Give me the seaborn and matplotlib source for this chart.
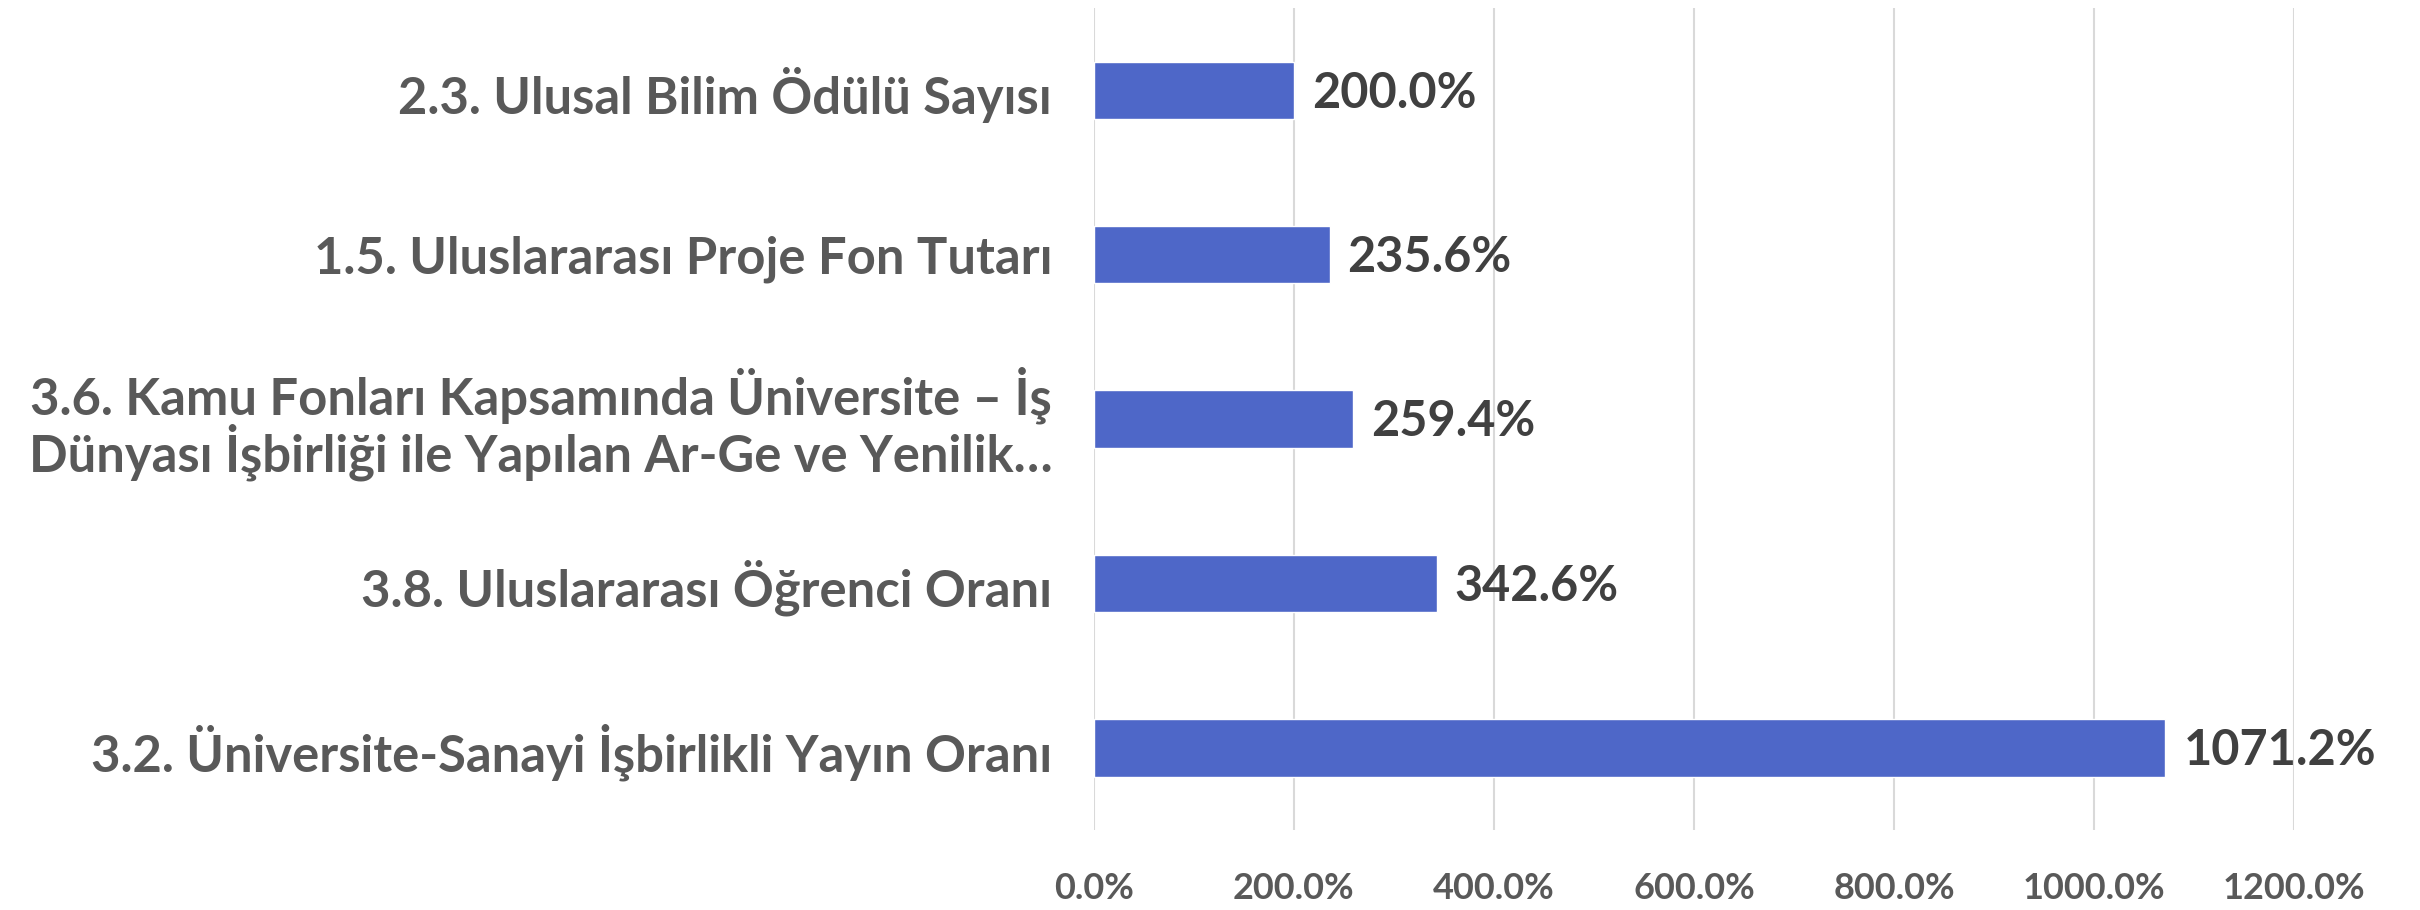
import matplotlib
matplotlib.use("Agg")
import matplotlib.pyplot as plt
import seaborn as sns
import pandas as pd

# göstergeler (yukarıdan aşağıya)
labels = [
    "2.3. Ulusal Bilim Ödülü Sayısı",
    "1.5. Uluslararası Proje Fon Tutarı",
    "3.6. Kamu Fonları Kapsamında Üniversite – İş\nDünyası İşbirliği ile Yapılan Ar-Ge ve Yenilik…",
    "3.8. Uluslararası Öğrenci Oranı",
    "3.2. Üniversite-Sanayi İşbirlikli Yayın Oranı",
]
values = [200.0, 235.6, 259.4, 342.6, 1071.2]
xticks = [0, 200, 400, 600, 800, 1000, 1200]

df = pd.DataFrame({"gosterge": labels, "oran": values})

sns.set_style("white")
plt.rcParams["font.family"] = ["Lato", "DejaVu Sans"]

fig = plt.figure(figsize=(24.2, 9.1), dpi=100)
ax = fig.add_axes([0.452, 0.088, 0.496, 0.903])

sns.barplot(data=df, x="oran", y="gosterge", orient="h", color="#4E67C8",
            saturation=1, width=0.35, ax=ax)

ax.set_xlim(0, 1200)
ax.set_ylim(4.5, -0.5)
ax.set_xticks(xticks)
ax.set_xticklabels([f"{t:.1f}%" for t in xticks])
ax.grid(axis="x", color="#D9D9D9", linewidth=1.5)
ax.set_axisbelow(True)
for s in ax.spines.values():
    s.set_visible(False)
ax.set_xlabel("")
ax.set_ylabel("")
ax.tick_params(axis="both", length=0)
ax.tick_params(axis="y", pad=30, labelsize=36.5, labelcolor="#595959")
ax.tick_params(axis="x", pad=30, labelsize=26, labelcolor="#595959")
for t in ax.get_yticklabels() + ax.get_xticklabels():
    t.set_fontweight("bold")
for t in ax.get_yticklabels():
    t.set_multialignment("right")
    t.set_linespacing(1.0)

for i, v in enumerate(values):
    ax.annotate(f"{v:.1f}%", (v, i), xytext=(13, -2), textcoords="offset points",
                ha="left", va="center", fontsize=35, fontweight="bold",
                color="#404040", annotation_clip=False)

fig.savefig("out.png", dpi=100)
